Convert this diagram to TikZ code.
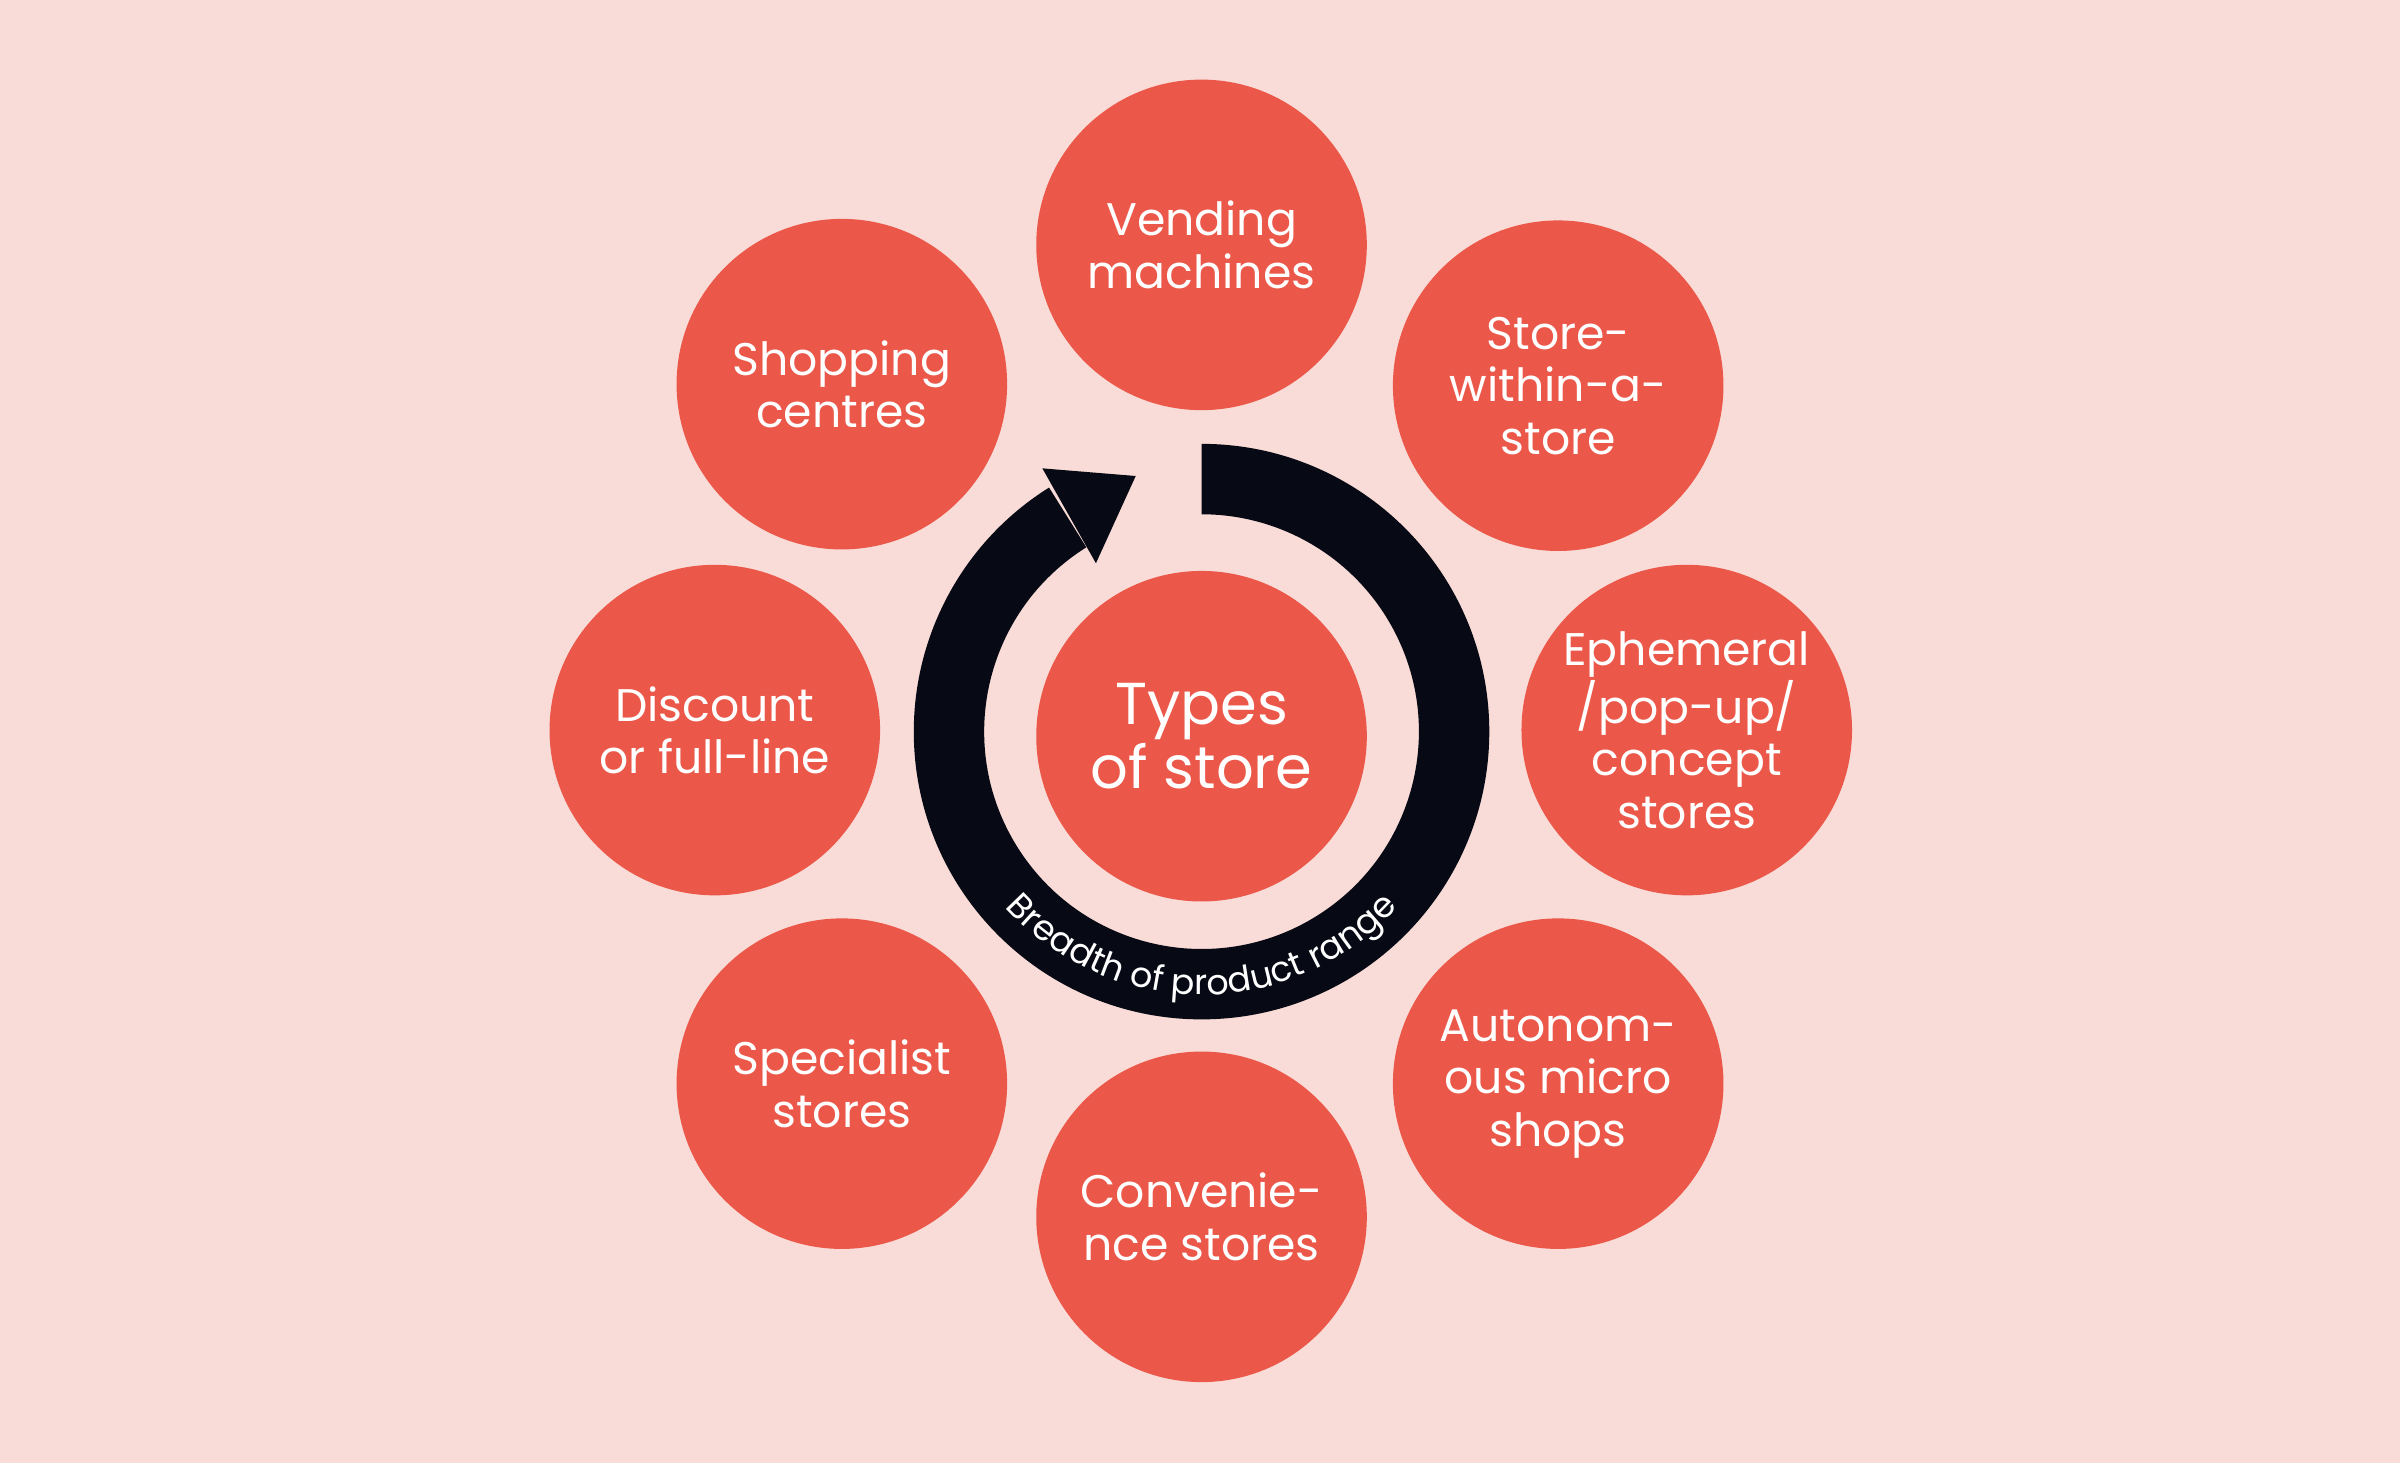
\documentclass[tikz,border=0pt]{standalone}
\usepackage{fontspec}
\setmainfont{Poppins}
\usetikzlibrary{decorations.text,calc}
\definecolor{bg}{HTML}{F9DCD7}
\definecolor{red}{HTML}{EB5749}
\definecolor{ink}{HTML}{070A14}
\tikzset{bub/.style={circle,fill=red,minimum size=4.32cm,inner sep=0pt,text=white,align=center,font=\fontsize{17}{19.5}\selectfont}}
\begin{document}
\begin{tikzpicture}[x=0.02cm,y=0.02cm]
\fill[bg] (0,0) rectangle (1568,956);
\useasboundingbox (0,0) rectangle (1568,956);
\coordinate (c) at (785,478);
\fill[ink] ($(c)+(90:188)$) arc[start angle=90,end angle=-238,radius=188] -- ($(c)+(122:142)$) arc[start angle=122,end angle=450,radius=142] -- cycle;
\fill[ink] (681,650) -- (716,588) -- (742,645) -- cycle;
\path[decorate,decoration={text along path,text align=center,text={|\fontsize{13}{15}\selectfont\color{white}|Breadth of product range}}] ($(c)+(200:172)$) arc[start angle=200,end angle=340,radius=172];
\node[bub,font=\fontsize{22}{24}\selectfont] (ctr) at (785,475) {Types\\of store};
\node[bub] (v) at (785,796) {Vending\\machines};
\node[bub] (s) at (550,705) {Shopping\\centres};
\node[bub] (w) at (1018,704) {Store-\\within-a-\\store};
\node[bub] (d) at (467,479) {Discount\\or full-line};
\node[bub] (e) at (1102,479) {Ephemeral\\/pop-up/\\concept\\stores};
\node[bub] (sp) at (550,248) {Specialist\\stores};
\node[bub] (a) at (1018,248) {Autonom-\\ous micro\\shops};
\node[bub] (cv) at (785,161) {Convenie-\\nce stores};
\end{tikzpicture}
\end{document}
